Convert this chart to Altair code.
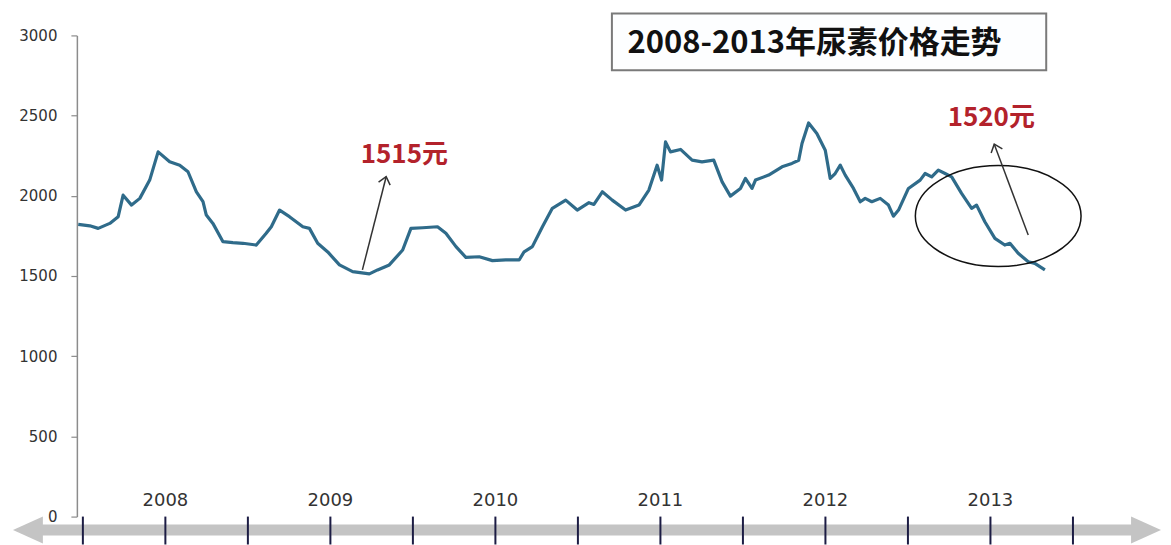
import altair as alt
import pandas as pd

# ---- data ----
t = [2007.972, 2008.042, 2008.093, 2008.163, 2008.214, 2008.244, 2008.295, 2008.345,
     2008.405, 2008.456, 2008.526, 2008.587, 2008.637, 2008.688, 2008.728, 2008.748,
     2008.788, 2008.849, 2008.909, 2008.970, 2009.051, 2009.111, 2009.142, 2009.192,
     2009.252, 2009.333, 2009.373, 2009.423, 2009.484, 2009.555, 2009.635, 2009.736,
     2009.786, 2009.857, 2009.938, 2009.988, 2010.059, 2010.149, 2010.200, 2010.261,
     2010.321, 2010.402, 2010.482, 2010.563, 2010.644, 2010.674, 2010.724, 2010.785,
     2010.845, 2010.926, 2010.996, 2011.067, 2011.097, 2011.148, 2011.208, 2011.289,
     2011.370, 2011.430, 2011.480, 2011.507, 2011.531, 2011.561, 2011.622, 2011.692,
     2011.752, 2011.823, 2011.874, 2011.924, 2011.985, 2012.015, 2012.055, 2012.076,
     2012.156, 2012.237, 2012.297, 2012.338, 2012.358, 2012.398, 2012.448, 2012.499,
     2012.529, 2012.559, 2012.590, 2012.620, 2012.670, 2012.711, 2012.741, 2012.781,
     2012.832, 2012.882, 2012.912, 2012.943, 2013.003, 2013.074, 2013.104, 2013.144,
     2013.184, 2013.225, 2013.265, 2013.325, 2013.386, 2013.416, 2013.466, 2013.527,
     2013.587, 2013.618, 2013.668, 2013.729, 2013.769, 2013.830]
price = [1822, 1813, 1797, 1828, 1870, 2004, 1942, 1984,
         2098, 2274, 2212, 2191, 2150, 2025, 1963, 1880,
         1828, 1714, 1708, 1704, 1693, 1766, 1807, 1911,
         1870, 1807, 1797, 1704, 1650, 1569, 1527, 1513,
         1538, 1569, 1662, 1797, 1801, 1807, 1766, 1683,
         1616, 1620, 1596, 1600, 1600, 1651, 1683, 1807,
         1922, 1973, 1911, 1957, 1946, 2025, 1973, 1911,
         1942, 2036, 2191, 2098, 2336, 2274, 2289, 2222,
         2212, 2222, 2087, 1998, 2046, 2108, 2046, 2098,
         2129, 2181, 2202, 2222, 2326, 2454, 2388, 2284,
         2108, 2139, 2191, 2129, 2046, 1963, 1984, 1963,
         1984, 1942, 1873, 1911, 2046, 2098, 2139, 2118,
         2160, 2139, 2118, 2015, 1922, 1942, 1838, 1735,
         1693, 1704, 1642, 1589, 1579, 1538]

tick_t = [2008.0, 2008.5, 2009.0, 2009.5, 2010.0, 2010.5, 2011.0,
          2011.5, 2012.0, 2012.5, 2013.0, 2013.5, 2014.0]
year_labels = ["2008", "2009", "2010", "2011", "2012", "2013"]
year_pos = [2008.5, 2009.5, 2010.5, 2011.5, 2012.5, 2013.5]
y_ticks = [0, 500, 1000, 1500, 2000, 2500, 3000]

title_text = "2008-2013年尿素价格走势"
note_text = ["1515元", "1520元"]
note_t = [2009.948, 2013.505]
note_v = [2253, 2484]
arrow_t = [2009.694, 2013.729]
arrow_v = [1538, 1755]
arrow_t2 = [2009.838, 2013.523]
arrow_v2 = [2119, 2322]
arrow_angle = [14.5, 339.5]

XS = alt.Scale(domain=[2007.9637, 2014.5457], nice=False, zero=False)
YS = alt.Scale(domain=[0, 3000], nice=False, zero=False)

YAXIS = alt.Axis(values=y_ticks, format="d", grid=False, title=None, domainColor="#8c8c8c",
                 domainWidth=1.5, tickColor="#8c8c8c", tickSize=6, tickWidth=1.2,
                 labelPadding=14, labelFont="DejaVu Sans", labelFontSize=15,
                 labelColor="#333333")


def X(f="t"):
    return alt.X(f"{f}:Q", scale=XS, axis=None)


def Y(f="v"):
    return alt.Y(f"{f}:Q", scale=YS, axis=YAXIS)


df = pd.DataFrame({"t": t, "v": price})

line = alt.Chart(df).mark_line(color="#2f6b8a", strokeWidth=3.2, strokeJoin="round").encode(
    x=X(), y=Y())

# bottom grey double arrow (time axis)
bar_df = pd.DataFrame({"t": [2007.75], "t2": [2014.43], "v": [-84]})
bar = alt.Chart(bar_df).mark_rule(color="#c4c4c4", strokeWidth=11).encode(
    x=X(), x2="t2:Q", y=Y())
heads_df = pd.DataFrame({"t": [2007.667, 2014.443], "v": [-84, -84],
                         "s": ["M1,-0.9L-1,0L1,0.9Z", "M-1,-0.9L1,0L-1,0.9Z"]})
heads = alt.Chart(heads_df).mark_point(filled=True, size=900, opacity=1,
                                        color="#c4c4c4", strokeWidth=0).encode(
    x=X(), y=Y(), shape=alt.Shape("s:N", scale=None, legend=None))

ticks_df = pd.DataFrame({"t": tick_t, "v": [0] * len(tick_t), "v2": [-174] * len(tick_t)})
ticks = alt.Chart(ticks_df).mark_rule(color="#1c1c44", strokeWidth=2).encode(
    x=X(), y=Y(), y2="v2:Q")

years_df = pd.DataFrame({"t": year_pos, "v": [100] * len(year_pos), "lab": year_labels})
years = alt.Chart(years_df).mark_text(font="DejaVu Sans", fontSize=18, color="#333333",
                                      baseline="middle").encode(
    x=X(), y=Y(), text="lab:N")

# title box
box_df = pd.DataFrame({"t": [2011.206], "t2": [2013.838], "v": [3137], "v2": [2783]})
box = alt.Chart(box_df).mark_rect(fill="#fdfeff", stroke="#7a7a7a", strokeWidth=2).encode(
    x=X(), x2="t2:Q", y=Y(), y2="v2:Q")
title_df = pd.DataFrame({"t": [2012.434], "v": [2944], "lab": [title_text]})
title = alt.Chart(title_df).mark_text(font="Noto Sans CJK SC", fontSize=31, fontWeight="bold",
                                      color="#111111", baseline="middle").encode(
    x=X(), y=Y(), text="lab:N")

# annotations
notes_df = pd.DataFrame({"t": note_t, "v": note_v, "lab": note_text})
notes = alt.Chart(notes_df).mark_text(font="Noto Sans CJK SC", fontSize=26, fontWeight="bold",
                                      color="#b3222b", baseline="middle").encode(
    x=X(), y=Y(), text="lab:N")

arr_df = pd.DataFrame({"t": arrow_t, "v": arrow_v, "t2": arrow_t2, "v2": arrow_v2,
                       "a": arrow_angle})
shafts = alt.Chart(arr_df).mark_rule(color="#333333", strokeWidth=1.5).encode(
    x=X(), y=Y(), x2="t2:Q", y2="v2:Q")
tips = alt.Chart(arr_df).mark_point(shape="M-1,1.2L0,0L1,1.2", filled=False, size=144,
                                    color="#333333", strokeWidth=1.5, opacity=1).encode(
    x=X("t2"), y=Y("v2"), angle=alt.Angle("a:Q", scale=None))

ell_df = pd.DataFrame({"t": [2013.547], "v": [1874]})
ellipse = alt.Chart(ell_df).mark_point(
    shape="M-1,0A1,0.61 0 1,0 1,0A1,0.61 0 1,0 -1,0Z", filled=False, size=27556,
    color="#111111", strokeWidth=1.5, opacity=1).encode(x=X(), y=Y())

chart = alt.layer(bar, heads, ticks, years, line, ellipse, shafts, tips, notes, box, title).properties(
    width=1088, height=482,
    autosize=alt.AutoSizeParams(type="none"),
    padding={"left": 69, "top": 27, "right": 0, "bottom": 28},
    background="white",
).configure_view(stroke=None)

chart.save("out.html", embed_options={"renderer": "svg", "actions": False})
